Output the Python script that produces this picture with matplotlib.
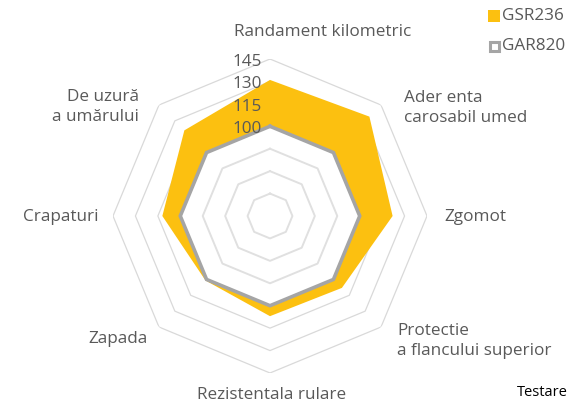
import numpy as np
import matplotlib.pyplot as plt

categories = [
    "Randament kilometric",
    "Ader enta\ncarosabil umed",
    "Zgomot",
    "Protectie\na flancului superior",
    "Rezistentala rulare",
    "Zapada",
    "Crapaturi",
    "De uzură\na umărului",
]
gsr236 = [131, 134, 122, 108, 107, 101, 112, 121]
gar820 = [100, 100, 100, 100, 100, 100, 100, 100]
ring_values = [55, 70, 85, 100, 115, 130, 145]
tick_labels = [100, 115, 130, 145]

W, H = 569, 403
fig = plt.figure(figsize=(W / 100, H / 100), dpi=100)
cx, cy, R = 270, 216, 157
ax = fig.add_axes([(cx - R) / W, (H - cy - R) / H, 2 * R / W, 2 * R / H], projection="polar")
ax.set_theta_zero_location("N")
ax.set_theta_direction(-1)
ax.set_ylim(40, 145)
ax.axis("off")

n = len(categories)
theta = np.linspace(0, 2 * np.pi, n, endpoint=False)
tc = np.append(theta, theta[0])

def closed(vals):
    return np.append(vals, vals[0])

# outer rings (behind the fill)
for rv in ring_values[3:]:
    ax.plot(tc, [rv] * (n + 1), color="#d9d9d9", lw=0.9, zorder=1)

ax.fill(tc, closed(gsr236), color="#fcc010", zorder=2, lw=0)
ax.fill(tc, closed(gar820), color="white", zorder=3, lw=0)

for rv in ring_values[:3]:
    ax.plot(tc, [rv] * (n + 1), color="#e0e0e0", lw=1.4, zorder=4)

ax.plot(tc, closed(gar820), color="#a5a5a5", lw=2.6, zorder=5, solid_joinstyle="miter")

txt = dict(color="#595959", fontsize=12.3, family="Open Sans")

def fx(x):
    return x / W

def fy(y):
    return 1 - y / H

for t in tick_labels:
    r_px = (t - 40) / 105 * R
    fig.text(fx(262), fy(cy - r_px + 3), str(t), ha="right", va="center", **txt)

# category labels
fig.text(fx(323), fy(32), categories[0], ha="center", va="center", **txt)
fig.text(fx(404), fy(108), categories[1], ha="left", va="center", linespacing=1.3, **txt)
fig.text(fx(444), fy(217), categories[2], ha="left", va="center", **txt)
fig.text(fx(397), fy(341), categories[3], ha="left", va="center", linespacing=1.3, **txt)
fig.text(fx(272), fy(395), categories[4], ha="center", va="center", **txt)
fig.text(fx(148), fy(339), categories[5], ha="right", va="center", **txt)
fig.text(fx(98), fy(217), categories[6], ha="right", va="center", **txt)
fig.text(fx(139), fy(107), categories[7], ha="right", va="center", linespacing=1.3, **txt)

# legend
fig.patches.append(plt.Rectangle((fx(488), fy(22)), 12 / W, 12 / H, transform=fig.transFigure,
                                 facecolor="#fcc010", edgecolor="none"))
fig.patches.append(plt.Rectangle((fx(489.5), fy(50.5)), 9 / W, 9 / H, transform=fig.transFigure,
                                 facecolor="white", edgecolor="#a5a5a5", lw=2.2))
fig.text(fx(502), fy(16), "GSR236", ha="left", va="center", **txt)
fig.text(fx(502), fy(46), "GAR820", ha="left", va="center", **txt)

fig.text(fx(517), fy(393), "Testare", ha="left", va="center", color="black", fontsize=10.5, family="Open Sans")

fig.savefig("out.png", dpi=100)
